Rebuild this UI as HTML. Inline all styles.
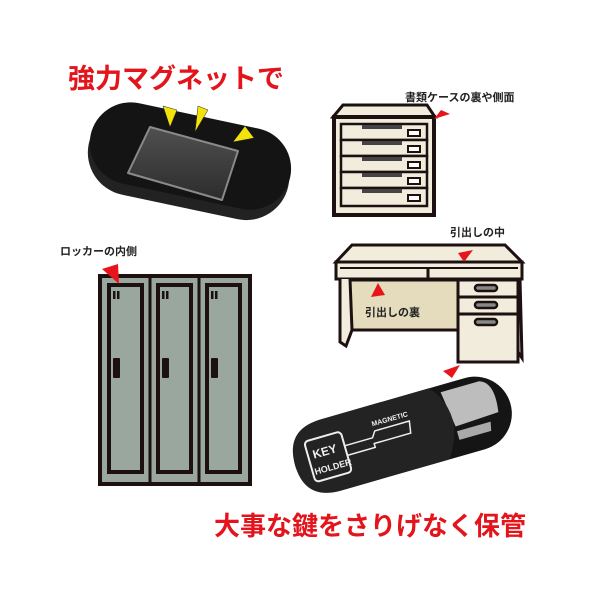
<!DOCTYPE html>
<html><head><meta charset="utf-8"><style>
html,body{margin:0;padding:0;background:#fff;width:600px;height:600px;overflow:hidden}
svg text{font-family:"Liberation Sans","Noto Sans CJK JP",sans-serif;font-weight:bold}
</style></head><body>
<svg width="600" height="600" viewBox="0 0 600 600" xmlns="http://www.w3.org/2000/svg">
<defs>
<linearGradient id="mg" x1="0" y1="0" x2="0" y2="1"><stop offset="0" stop-color="#505050"/><stop offset="1" stop-color="#2c2c2c"/></linearGradient>
</defs>
<text x="68" y="88" font-size="27" fill="#e3141b">強力マグネットで</text>
<!-- magnet holder -->
<g transform="rotate(12 190 158)">
<rect x="88" y="122" width="204" height="86" rx="43" fill="#222"/>
<rect x="88" y="115" width="204" height="82" rx="41" fill="#141414"/>
</g>
<polygon points="150,127 238,151 222,200 128,173" fill="url(#mg)" stroke="#8a8a8a" stroke-width="2" stroke-linejoin="round"/>
<polygon points="163,106 177,110 170,127" fill="#f4e30b" stroke="#222" stroke-width="0.5"/>
<polygon points="198,106 208,110 195,132" fill="#f4e30b" stroke="#222" stroke-width="0.5"/>
<polygon points="245,126 254,138 233,142" fill="#f4e30b" stroke="#222" stroke-width="0.5"/>
<!-- file cabinet -->
<text x="405" y="101" font-size="11" fill="#222">書類ケースの裏や側面</text>
<polygon points="343,105 427,105 435,117 333,117" fill="#f1ecdc" stroke="#1c1010" stroke-width="3"/>
<rect x="334" y="117" width="100" height="98" fill="#f1ecdc" stroke="#1c1010" stroke-width="4"/>
<g fill="#f1ecdc" stroke="#1c1010" stroke-width="2.5">
<rect x="341" y="124" width="86" height="16"/><rect x="341" y="140" width="86" height="16"/><rect x="341" y="156" width="86" height="16"/><rect x="341" y="172" width="86" height="16"/><rect x="341" y="188" width="86" height="18"/>
</g>
<g fill="#444">
<rect x="362" y="125" width="40" height="4"/><rect x="362" y="141" width="40" height="4"/><rect x="362" y="157" width="40" height="4"/><rect x="362" y="173" width="40" height="4"/><rect x="362" y="189" width="40" height="4"/>
</g>
<g fill="#fff" stroke="#1c1010" stroke-width="2">
<rect x="408" y="130" width="12" height="6"/><rect x="408" y="146" width="12" height="6"/><rect x="408" y="162" width="12" height="6"/><rect x="408" y="178" width="12" height="6"/><rect x="408" y="195" width="12" height="6"/>
</g>
<polygon points="434,119 450,114 441,110" fill="#e8141c"/>
<!-- desk -->
<text x="450" y="236" font-size="11" fill="#222">引出しの中</text>
<polygon points="352,245 505,245 522,262 336,262" fill="#f1ecdc" stroke="#1c1010" stroke-width="3"/>
<rect x="336" y="262" width="186" height="17" fill="#f1ecdc" stroke="#1c1010" stroke-width="3"/>
<line x1="340" y1="268" x2="518" y2="268" stroke="#1c1010" stroke-width="2"/>
<line x1="428" y1="268" x2="428" y2="278" stroke="#1c1010" stroke-width="3"/>
<rect x="350" y="280" width="108" height="50" fill="#e4dcbd" stroke="#1c1010" stroke-width="3"/>
<path d="M340 279 L340 342 L346 346 L352 330 L350 279" fill="#f1ecdc" stroke="#1c1010" stroke-width="3"/>
<path d="M516 279 L518 352 L522 358 L520 279" fill="#f1ecdc" stroke="#1c1010" stroke-width="3"/>
<rect x="458" y="280" width="60" height="82" fill="#f1ecdc" stroke="#1c1010" stroke-width="3"/>
<line x1="458" y1="297" x2="518" y2="297" stroke="#1c1010" stroke-width="3"/>
<line x1="458" y1="314" x2="518" y2="314" stroke="#1c1010" stroke-width="3"/>
<g fill="#888" stroke="#1c1010" stroke-width="2.5">
<rect x="475" y="285" width="22" height="6" rx="3"/><rect x="475" y="302" width="22" height="6" rx="3"/><rect x="475" y="319" width="22" height="6" rx="3"/>
</g>
<text x="365" y="316" font-size="11" fill="#222">引出しの裏</text>
<polygon points="464,262 473,250 458,253" fill="#e8141c"/>
<polygon points="378,283 371,297 385,295" fill="#e8141c"/>
<polygon points="460,365 443,371 452,378" fill="#e8141c"/>
<!-- lockers -->
<text x="60" y="255" font-size="11" fill="#222">ロッカーの内側</text>
<rect x="100" y="276" width="150" height="208" fill="#9aa79f" stroke="#1c1010" stroke-width="4"/>
<line x1="150" y1="276" x2="150" y2="484" stroke="#1c1010" stroke-width="3"/>
<line x1="199" y1="276" x2="199" y2="484" stroke="#1c1010" stroke-width="3"/>
<g fill="none" stroke="#1c1010" stroke-width="4">
<rect x="109" y="285" width="33" height="187"/><rect x="158" y="285" width="33" height="187"/><rect x="207" y="285" width="33" height="187"/>
</g>
<g fill="#1c1010">
<rect x="113" y="291" width="2.5" height="8"/><rect x="117" y="291" width="2.5" height="8"/>
<rect x="162" y="291" width="2.5" height="8"/><rect x="166" y="291" width="2.5" height="8"/>
<rect x="211" y="291" width="2.5" height="8"/><rect x="215" y="291" width="2.5" height="8"/>
<rect x="113" y="358" width="7" height="20" rx="1"/><rect x="162" y="358" width="7" height="20" rx="1"/><rect x="211" y="358" width="7" height="20" rx="1"/>
</g>
<polygon points="102,269 119,284 118,264" fill="#e8141c"/>
<!-- key holder -->
<g transform="rotate(-16 400 432)">
<rect x="290" y="398" width="224" height="74" rx="37" fill="#151515"/>
<path d="M450 405 L490 405 Q505 410 500 440 L455 442 Z" fill="#bdbdbd"/>
<path d="M455 447 L490 447 L488 456 L455 456Z" fill="#a9a9a9"/>
<path d="M290 435 Q290 398 327 398 L440 398 Q468 432 440 472 L327 472 Q290 472 290 435Z" fill="#232323"/>
<rect x="305" y="415" width="38" height="42" rx="4" fill="none" stroke="#eee" stroke-width="2"/>
<text x="310" y="434" font-size="12" fill="#eee">KEY</text>
<text x="307" y="450" font-size="9" fill="#eee">HOLDER</text>
<path d="M343 430 L372 430 L376 424 L412 424 L410 436 L372 436 L372 440 L343 440" fill="none" stroke="#eee" stroke-width="1.5"/>
<text x="375" y="419" font-size="7" fill="#eee">MAGNETIC</text>
</g>
<text x="214" y="535" font-size="26" fill="#e3141b">大事な鍵をさりげなく保管</text>
</svg>
</body></html>
